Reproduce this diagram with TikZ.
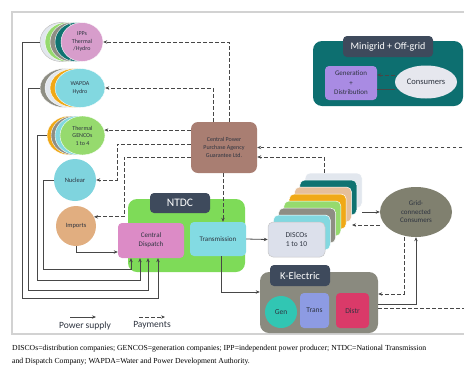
\documentclass[tikz,border=0pt]{standalone}
\usepackage{fontspec}
\setmainfont{Carlito}
\newfontfamily\capfont{Liberation Serif}
\usetikzlibrary{arrows.meta,shapes.geometric}
\newcommand\fsz[2]{\fontsize{#1}{#2}\selectfont}

\definecolor{frameGrey}{HTML}{D2D2D2}
\definecolor{wireGrey}{HTML}{474747}
\definecolor{textDark}{HTML}{2E3440}
\definecolor{slate}{HTML}{3E4A5C}
\definecolor{stkWhite}{HTML}{E2E7EE}
\definecolor{stkGreen}{HTML}{96DA6E}
\definecolor{stkGrey}{HTML}{8E8E84}
\definecolor{stkTeal}{HTML}{0F7371}
\definecolor{stkOrange}{HTML}{F0A916}
\definecolor{stkCyan}{HTML}{82D8E0}
\definecolor{ippPink}{HTML}{D79DCB}
\definecolor{nucCyan}{HTML}{7FD4DE}
\definecolor{impTan}{HTML}{E1AE80}
\definecolor{ntdcGreen}{HTML}{7EDB58}
\definecolor{dispPink}{HTML}{DC8BC6}
\definecolor{transCyan}{HTML}{83DBE3}
\definecolor{cppaBrown}{HTML}{A97E72}
\definecolor{discoFront}{HTML}{DCE0EB}
\definecolor{discoTan}{HTML}{E6BF99}
\definecolor{consGrey}{HTML}{80806F}
\definecolor{keGrey}{HTML}{8A8A7F}
\definecolor{genTeal}{HTML}{31C6B3}
\definecolor{transBlue}{HTML}{8D9BE3}
\definecolor{distrRed}{HTML}{DA3A69}
\definecolor{miniTeal}{HTML}{0D6F70}
\definecolor{gdPurple}{HTML}{A98BE3}
\definecolor{consLight}{HTML}{E6E7EE}

\tikzset{
  supply/.style={wireGrey, line width=0.8pt, -{Stealth[length=4pt,width=3.4pt]}},
  payment/.style={wireGrey, line width=0.9pt, dash pattern=on 3.5pt off 2.5pt, -{Stealth[length=4pt,width=3.4pt]}},
  genoval/.style={ellipse, draw=white, line width=0.4pt, inner sep=0pt, minimum height=39pt, align=center, text=textDark, font=\fsz{6}{7.5}},
  box/.style={rectangle, rounded corners=4pt, inner sep=1pt, align=center, text=textDark},
  tag/.style={box, fill=slate, text=white},
  discobox/.style={box, rounded corners=5pt, draw=white, line width=0.5pt, minimum width=57pt, minimum height=35pt, font=\fsz{7.5}{9}},
}

\begin{document}
\begin{tikzpicture}[x=1pt, y=-1pt]
		%%%%% START %%%%%
		\useasboundingbox (0,0) rectangle (464,365);
		\clip (0,0) rectangle (464,365);
		\draw[frameGrey, line width=1.2pt] (12,12) rectangle (480,334);
		
		% generators on the left
		\foreach \c/\x [count=\i] in {stkWhite/61, stkGreen/66, stkGrey/71, stkTeal/76}
			\node[genoval, minimum width=42pt, fill=\c] (ipps\i) at (\x,42) {};
		\draw[gray!60, line width=0.4pt] (ipps1) ellipse (21pt and 19.5pt);
		\node[genoval, minimum width=42pt, fill=ippPink] (ipps) at (82,42) {IPPs\\Thermal\\/Hydro};
		
		\foreach \c/\x [count=\i] in {stkGrey/65, stkWhite/70, stkOrange/75}
			\node[genoval, minimum width=50pt, fill=\c] (wapda\i) at (\x,88) {};
		\node[genoval, minimum width=50pt, fill=stkCyan] (wapda) at (80,88) {WAPDA\\Hydro};
		
		\foreach \c/\x [count=\i] in {stkOrange/69.5, stkGrey/73.5, stkCyan/77.5}
			\node[genoval, minimum width=45pt, fill=\c] (therm\i) at (\x,135.5) {};
		\node[genoval, minimum width=45pt, fill=stkGreen] (therm) at (82.5,135.5) {Thermal\\GENCOs\\1 to 4};
		
		\node[circle, fill=nucCyan, minimum size=42pt, inner sep=0pt, text=textDark, font=\fsz{6.5}{8}] (nuclear) at (75,180) {Nuclear};
		\node[circle, fill=impTan, minimum size=40pt, inner sep=0pt, text=textDark, font=\fsz{6.5}{8}] (imports) at (76,226) {Imports};
		
		% NTDC
		\node[box, rounded corners=9pt, fill=ntdcGreen, minimum width=117pt, minimum height=73pt] (ntdc) at (186.5,235.5) {};
		\node[tag, minimum width=60pt, minimum height=20pt, font=\fsz{11.5}{13}] (ntdcTag) at (180,203) {NTDC};
		\node[box, fill=dispPink, minimum width=66pt, minimum height=35pt, font=\fsz{7}{9}] (dispatch) at (151,240.5) {Central\\Dispatch};
		\node[box, fill=transCyan, minimum width=56pt, minimum height=34pt, font=\fsz{7}{9}] (trans) at (218,239) {Transmission};
		
		\node[box, rounded corners=7pt, fill=cppaBrown, minimum width=66pt, minimum height=51pt, font=\fsz{6}{8}] (cppa) at (224,147.5) {Central Power\\Purchase Agency\\Guarantee Ltd.};
		
		% DISCOs stack
		\foreach \k/\c in {7/stkWhite, 6/stkTeal, 5/discoTan, 4/stkOrange, 3/stkGreen, 2/stkGrey, 1/stkCyan}
			\node[discobox, fill=\c] (disco\k) at ({296.5+5.3*\k},{239.5-7*\k}) {};
		\node[discobox, fill=discoFront, draw=gray!45] (disco0) at (296.5,239.5) {DISCOs\\1 to 10};
		
		\node[ellipse, fill=consGrey, minimum width=72pt, minimum height=50pt, inner sep=0pt, align=center, text=textDark, font=\fsz{7}{8.5}] (consumers) at (416,212) {Grid-\\connected\\Consumers};
		
		% K-Electric
		\node[box, rounded corners=9pt, fill=keGrey, minimum width=118pt, minimum height=61pt] (kelec) at (319,302.5) {};
		\node[tag, minimum width=60pt, minimum height=21pt, font=\fsz{10.5}{12}] (keTag) at (300,275.5) {K-Electric};
		\node[circle, fill=genTeal, minimum size=32pt, inner sep=0pt, text=textDark, font=\fsz{7.5}{9}] (keGen) at (281,312) {Gen};
		\node[box, fill=transBlue, minimum width=29pt, minimum height=35pt, font=\fsz{7.5}{9}] (keTrans) at (314.5,310.5) {Trans};
		\node[box, fill=distrRed, minimum width=33pt, minimum height=35pt, font=\fsz{7.5}{9}] (keDistr) at (352.5,310.5) {Distr};
		
		% Minigrid + Off-grid
		\node[box, rounded corners=9pt, fill=miniTeal, minimum width=150pt, minimum height=65pt] (mini) at (388,73.5) {};
		\node[tag, minimum width=90pt, minimum height=21pt, font=\fsz{10}{12}] (miniTag) at (388,46.5) {Minigrid + Off-grid};
		\node[box, fill=gdPurple, minimum width=52pt, minimum height=34pt, font=\fsz{7}{9.5}] (gendist) at (351,83) {Generation\\+\\Distribution};
		\node[ellipse, fill=consLight, minimum width=62pt, minimum height=33pt, inner sep=0pt, text=textDark, font=\fsz{8.5}{10}] (consMini) at (426,82) {Consumers};
		
		% power supply
		\draw[supply] (ipps1.west) -| (22,298) -| ([xshift=7pt]dispatch.south);
		\draw[supply] (wapda1.west) -| (28,290) -| ([xshift=-3pt]dispatch.south);
		\draw[supply] (therm1.west) -| (37,280) -| ([xshift=-11pt]dispatch.south);
		\draw[supply] (nuclear.west) -| (43,269) -| ([xshift=-20pt]dispatch.south);
		\draw[supply] (imports.south) |- ([yshift=-11.5pt]dispatch.west);
		\draw[supply] (trans.east) -- (disco0.west);
		\draw[supply] ([xshift=3pt]trans.south) |- ([yshift=10.5pt]kelec.west);
		\draw[supply] (consumers.west -| disco7.east) -- (consumers.west);
		\draw[supply] ([yshift=-1.5pt]kelec.east) -| (consumers.south);
		\draw[wireGrey, line width=0.8pt] ([yshift=-6pt]gendist.east) -- ([yshift=-7pt]consMini.west);
		
		% payments
		\coordinate (nucTurn) at (117,0);
		\coordinate (impTurn) at (124,0);
		\coordinate (farRight) at (472,0);
		\coordinate (discoPay) at (352,225);
		\draw[payment] ([xshift=5pt]cppa.north) |- (ipps.east);
		\draw[payment] ([xshift=-11pt]cppa.north) |- (wapda.east);
		\draw[payment] (cppa.west |- therm.14) -- (therm.14);
		\draw[payment] ([yshift=3.5pt]cppa.west) -| (nuclear.east -| nucTurn) -- (nuclear.east);
		\draw[payment] ([yshift=-9.5pt]cppa.west) -| (imports.27 -| impTurn) -- (imports.27);
		\draw[payment] ([xshift=-1pt]cppa.south) -- ([xshift=-1pt]cppa.south |- trans.north);
		\draw[payment] ([xshift=-9.5pt]disco7.north) |- ([yshift=-9.5pt]cppa.east);
		\draw[payment] ([yshift=-5.5pt]kelec.east) -- ([yshift=-5.5pt]kelec.east -| farRight) |- (cppa.east);
		\draw[payment] ([yshift=-13pt]consumers.west) -- (discoPay);
		\draw[payment] ([xshift=-12pt]consumers.south) |- ([yshift=8.5pt]kelec.east);
		\draw[payment] ([yshift=7pt]consMini.west) -- ([yshift=8pt]gendist.east);
		
		% legend
		\coordinate (legS1) at (70,317);
		\coordinate (legS2) at (96,317);
		\coordinate (legP1) at (139,317);
		\coordinate (legP2) at (165,317);
		\draw[supply] (legS1) -- (legS2);
		\draw[payment] (legP1) -- (legP2);
		\node[font=\fsz{9.5}{11}, text=textDark] (legSupply) at (85,325.5) {Power supply};
		\node[font=\fsz{9.5}{11}, text=textDark] (legPay) at (152,325.5) {Payments};
		
		\node[anchor=north west, inner sep=0pt, align=left, font=\capfont\fsz{7.7}{12.5}] (caption) at (12,345) {DISCOs=distribution companies; GENCOS=generation companies; IPP=independent power producer; NTDC=National Transmission\\and Dispatch Company; WAPDA=Water and Power Development Authority.};
		%%%%% END %%%%%
	\end{tikzpicture}
\end{document}
